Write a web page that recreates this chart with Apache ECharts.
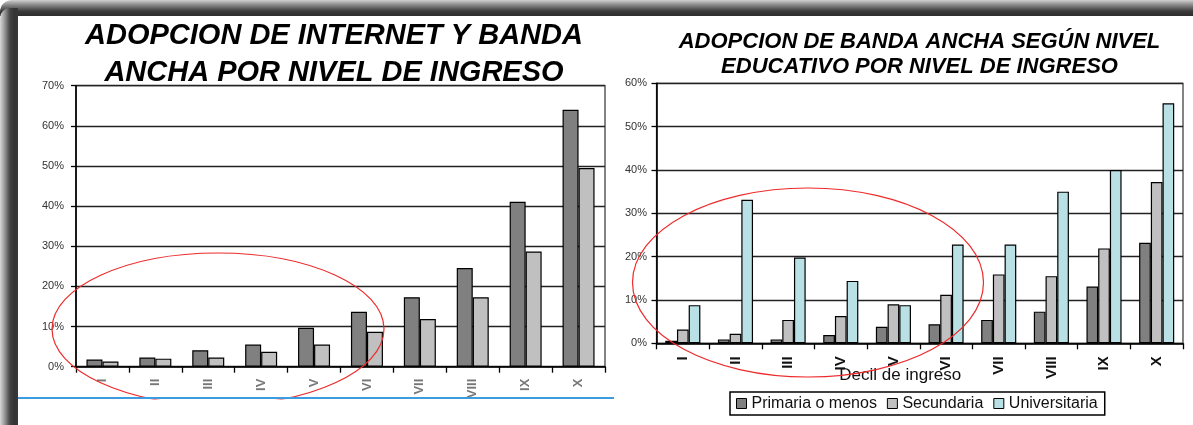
<!DOCTYPE html>
<html>
<head>
<meta charset="utf-8">
<script src="https://cdn.jsdelivr.net/npm/echarts@6/dist/echarts.min.js"></script>
<style>
html,body{margin:0;padding:0;background:#fff;}
#chart{width:1193px;height:425px;}
</style>
</head>
<body>
<div id="chart"></div>
<script>
// ---- data ----
const categories = ['I','II','III','IV','V','VI','VII','VIII','IX','X'];
// Left chart: adopción de internet y banda ancha por decil de ingreso (%)
const internet   = [1.8, 2.3, 4.1, 5.5, 9.7, 13.7, 17.3, 24.6, 41.1, 64.0];
const bandaAncha = [1.3, 2.0, 2.3, 3.7, 5.5, 8.7, 11.9, 17.3, 28.7, 49.5];
// Right chart: banda ancha según nivel educativo (%)
const primaria      = [0.6, 0.9, 0.9, 1.9, 3.8, 4.4, 5.4, 7.3, 13.1, 23.2];
const secundaria    = [3.2, 2.2, 5.4, 6.3, 9.0, 11.2, 15.9, 15.5, 21.9, 37.2];
const universitaria = [8.8, 33.1, 19.8, 14.4, 8.8, 22.8, 22.8, 35.0, 40.0, 55.4];
const seriesNamesRight = ['Primaria o menos', 'Secundaria', 'Universitaria'];
const leftTitle  = 'ADOPCION DE INTERNET Y BANDA\nANCHA POR NIVEL DE INGRESO';
const rightTitle = 'ADOPCION DE BANDA ANCHA SEGÚN NIVEL\nEDUCATIVO POR NIVEL DE INGRESO';
const xName = 'Decil de ingreso';

const FONT = "'Liberation Sans', Arial, sans-serif";
const DARK = '#808080', LIGHT = '#c0c0c0', CYAN = '#b9e0e4';

const chart = echarts.init(document.getElementById('chart'), null, {renderer:'canvas'});

function yAxisCfg(gridIndex, max, labelSize, margin) {
  return {
    type: 'value', gridIndex, min: 0, max, interval: 10,
    axisLabel: { formatter: '{value}%', fontFamily: FONT, fontSize: labelSize, color: '#333', margin },
    axisLine: { show: true, lineStyle: { color: '#000', width: 1.6 } },
    axisTick: { show: true, length: 5, lineStyle: { color: '#000', width: 1.3 } },
    splitLine: { show: true, lineStyle: { color: '#222', width: 1.4 } }
  };
}
function xAxisCfg(gridIndex, labelColor, labelSize, weight, margin, extra) {
  return Object.assign({
    type: 'category', gridIndex, data: categories,
    axisLabel: { rotate: 90, fontFamily: FONT, fontSize: labelSize, fontWeight: weight, color: labelColor, margin, interval: 0 },
    axisLine: { show: true, lineStyle: { color: '#000', width: 1.6 } },
    axisTick: { show: true, length: 6, lineStyle: { color: '#000', width: 1.3 } }
  }, extra || {});
}
function barSeries(name, data, color, xi, width) {
  return {
    type: 'bar', name, data, xAxisIndex: xi, yAxisIndex: xi,
    barWidth: width, barGap: '0%',
    itemStyle: { color, borderColor: '#000', borderWidth: 1.2 },
    emphasis: { disabled: true }, animation: false
  };
}

const option = {
  animation: false,
  backgroundColor: '#fff',
  title: [
    { text: leftTitle, left: 334, top: 18, textAlign: 'center', padding: 0,
      textStyle: { fontFamily: FONT, fontSize: 29, fontWeight: 'bold', fontStyle: 'italic', color: '#000', lineHeight: 36.4 } },
    { text: rightTitle, left: 919.5, top: 29, textAlign: 'center', padding: 0,
      textStyle: { fontFamily: FONT, fontSize: 22, fontWeight: 'bold', fontStyle: 'italic', color: '#000', lineHeight: 25 } }
  ],
  grid: [
    { left: 76, top: 85.7, width: 529, height: 281, show: true, borderColor: '#333', borderWidth: 1.2, backgroundColor: 'transparent' },
    { left: 656.5, top: 83.3, width: 526.5, height: 260, show: true, borderColor: '#333', borderWidth: 1.2, backgroundColor: 'transparent' }
  ],
  xAxis: [
    xAxisCfg(0, '#777', 13, 'bold', 12),
    xAxisCfg(1, '#111', 15, 'bold', 13, {
      name: xName, nameLocation: 'middle', nameGap: 24, nameMoveOverlap: false,
      nameTextStyle: { fontFamily: FONT, fontSize: 17, color: '#111', padding: [0, 39, 0, 0] }
    })
  ],
  yAxis: [ yAxisCfg(0, 70, 11, 12), yAxisCfg(1, 60, 11, 9.5) ],
  legend: {
    data: seriesNamesRight,
    left: 730, top: 392, orient: 'horizontal',
    itemWidth: 10, itemHeight: 10, itemGap: 10,
    icon: 'rect',
    borderColor: '#000', borderWidth: 1.5, padding: [3, 7, 3, 6],
    itemStyle: { borderColor: '#000', borderWidth: 1 },
    textStyle: { fontFamily: FONT, fontSize: 16, color: '#111', lineHeight: 17 },
    selectedMode: false
  },
  series: [
    barSeries('Internet', internet, DARK, 0, 16),
    barSeries('Banda ancha', bandaAncha, LIGHT, 0, 16),
    barSeries(seriesNamesRight[0], primaria, DARK, 1, 11.7),
    barSeries(seriesNamesRight[1], secundaria, LIGHT, 1, 11.7),
    barSeries(seriesNamesRight[2], universitaria, CYAN, 1, 11.7)
  ],
  graphic: [
    { type: 'ellipse', z: 50, silent: true, shape: { cx: 218, cy: 329, rx: 166, ry: 76 },
      style: { fill: null, stroke: '#ee2a2a', lineWidth: 1.2 } },
    { type: 'ellipse', z: 50, silent: true, shape: { cx: 808, cy: 282.5, rx: 175.5, ry: 94.5 },
      style: { fill: null, stroke: '#ee2a2a', lineWidth: 1.2 } },
    { type: 'rect', z: 60, silent: true, shape: { x: 18, y: 399.5, width: 600, height: 26 }, style: { fill: '#fff' } },
    { type: 'line', z: 70, silent: true, shape: { x1: 18, y1: 398, x2: 614, y2: 398 }, style: { stroke: '#3d9be0', lineWidth: 2 } },
    { type: 'rect', z: 80, silent: true, shape: { x: 0, y: 0, width: 1193, height: 16, r: [12, 0, 0, 0] },
      style: { fill: { type: 'linear', x: 0, y: 0, x2: 0, y2: 1, colorStops: [
        { offset: 0, color: '#d0d0d0' }, { offset: 0.3, color: '#8a8a8a' }, { offset: 0.7, color: '#3a3a3a' }, { offset: 1, color: '#2c2c2c' } ] } } },
    { type: 'rect', z: 81, silent: true, shape: { x: 0, y: 8, width: 18, height: 417, r: [10, 0, 0, 0] },
      style: { fill: { type: 'linear', x: 0, y: 0, x2: 1, y2: 0, colorStops: [
        { offset: 0, color: '#d8d8d8' }, { offset: 0.25, color: '#999' }, { offset: 0.55, color: '#444' }, { offset: 0.8, color: '#333' }, { offset: 1, color: '#383838' } ] } } }
  ]
};
chart.setOption(option);
</script>
</body>
</html>
